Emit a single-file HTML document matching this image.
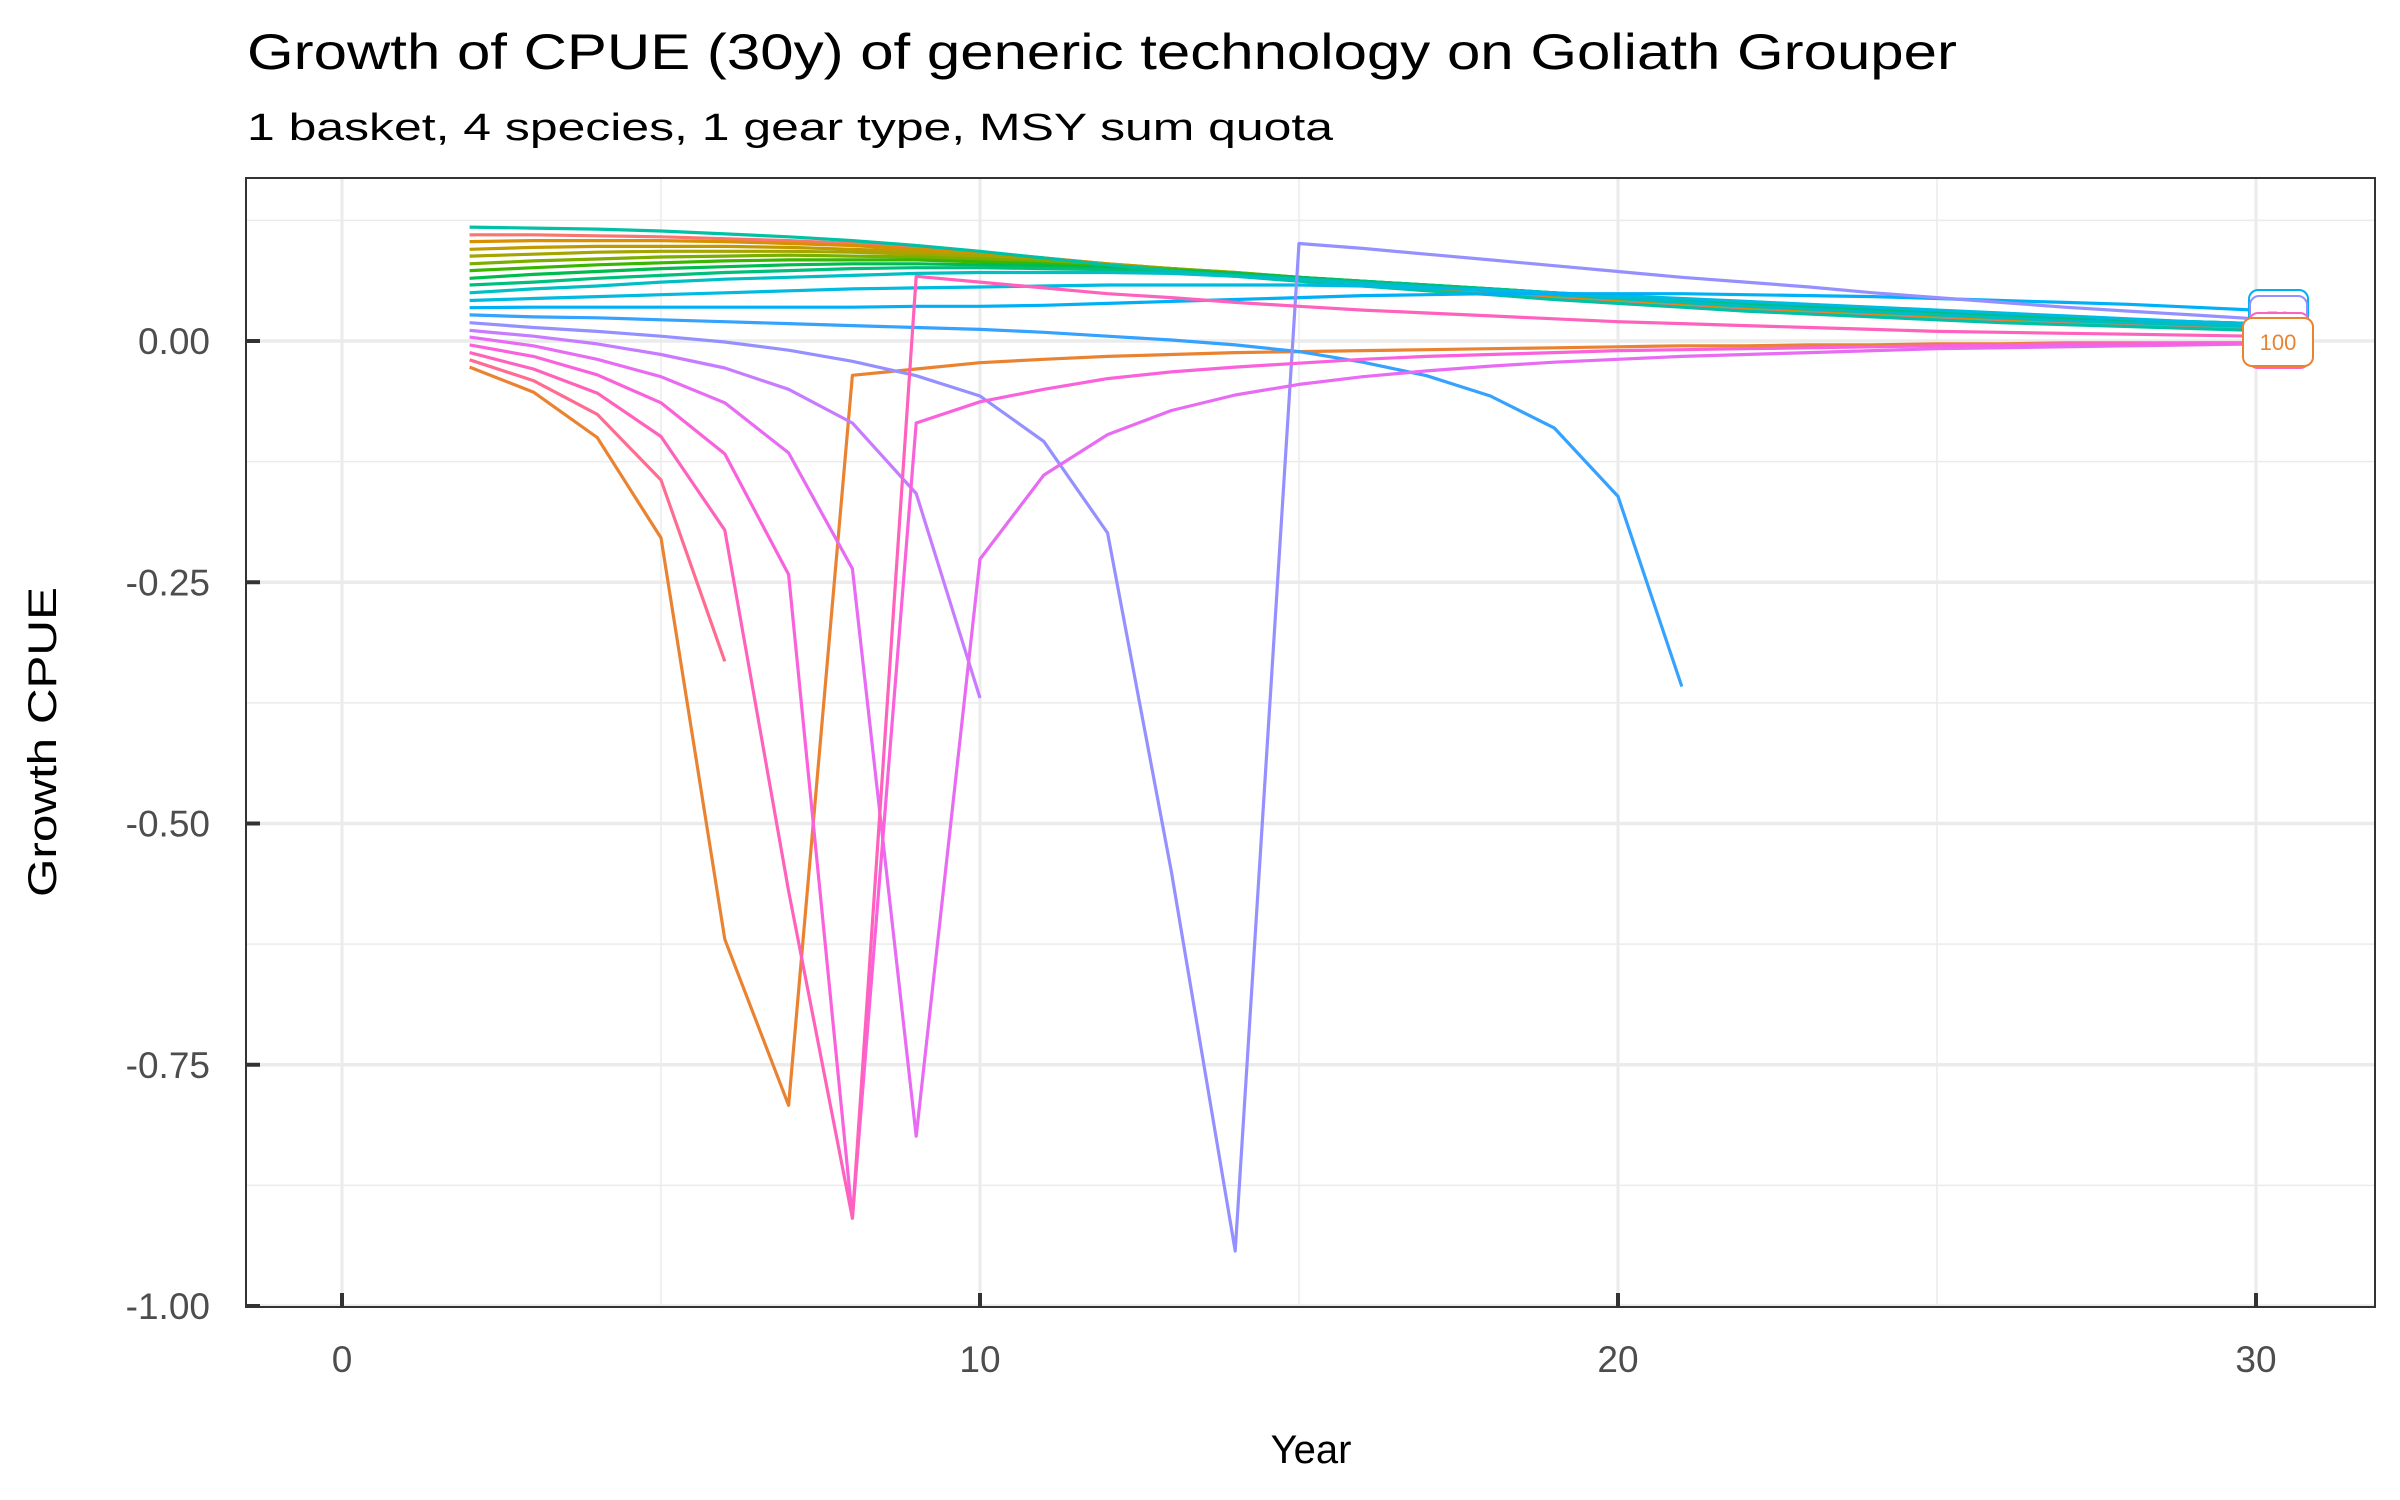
<!DOCTYPE html>
<html><head><meta charset="utf-8"><style>
html,body{margin:0;padding:0;background:#fff;}
svg{display:block;font-family:"Liberation Sans",Arial,sans-serif;}
</style></head><body>
<svg id="chart" width="2400" height="1500" viewBox="0 0 2400 1500" xmlns="http://www.w3.org/2000/svg">
<rect x="0" y="0" width="2400" height="1500" fill="#fff"/>
<text x="247" y="69" font-size="50" fill="#000" textLength="1710" lengthAdjust="spacingAndGlyphs">Growth of CPUE (30y) of generic technology on Goliath Grouper</text>
<text x="247" y="140" font-size="38" fill="#000" textLength="1086" lengthAdjust="spacingAndGlyphs">1 basket, 4 species, 1 gear type, MSY sum quota</text>
<g id="grid"></g>
<g id="series"></g>
<g id="labels"></g>
<rect x="246" y="178" width="2129" height="1129" fill="none" stroke="#333" stroke-width="2"/>
<g id="axes"></g>
<text x="1311" y="1463" font-size="40" text-anchor="middle" fill="#000">Year</text>
<text x="0" y="0" font-size="40" text-anchor="middle" fill="#000" transform="translate(56,742) rotate(-90)" textLength="310" lengthAdjust="spacingAndGlyphs">Growth CPUE</text>
</svg>
<script>
const years = [2,3,4,5,6,7,8,9,10,11,12,13,14,15,16,17,18,19,20,21,22,23,24,25,26,27,28,29,30];
const levels = ["10","100","15","20","25","30","35","40","45","5","50","55","60","65","70","75","80","85","90","95"];
const colors = ["#F8766D","#EA8331","#D89000","#C09B00","#A3A500","#7CAE00","#39B600","#00BB4E","#00BF7D","#00C1A3","#00BFC4","#00BAE0","#00B0F6","#35A2FF","#9590FF","#C77CFF","#E76BF3","#FA62DB","#FF62BC","#FF6C91"];
const xTicks = [0,10,20,30];
const yTicks = [0,-0.25,-0.5,-0.75,-1];
const yTickLabels = ["0.00","-0.25","-0.50","-0.75","-1.00"];
const s5   = [.118,.117,.116,.114,.111,.108,.104,.099,.093,.086,.079,.073,.067,.062,.057,.052,.048,.043,.039,.035,.031,.028,.025,.022,.019,.017,.015,.013,.011];
const s10  = [.110,.110,.109,.108,.106,.104,.101,.097,.092,.086,.080,.074,.069,.064,.059,.054,.050,.046,.042,.038,.034,.031,.028,.025,.022,.020,.018,.016,.014];
const s15  = [.103,.104,.104,.104,.103,.101,.099,.095,.091,.086,.080,.075,.070,.065,.060,.055,.051,.047,.043,.039,.035,.032,.029,.026,.023,.021,.019,.017,.015];
const s20  = [.095,.097,.098,.098,.098,.097,.095,.093,.089,.085,.080,.075,.070,.065,.060,.056,.052,.048,.044,.040,.036,.033,.030,.027,.024,.022,.020,.018,.016];
const s25  = [.088,.090,.092,.093,.093,.093,.092,.090,.088,.084,.079,.075,.071,.066,.061,.057,.053,.049,.045,.041,.037,.034,.031,.028,.025,.022,.020,.018,.016];
const s30  = [.080,.083,.085,.087,.088,.089,.088,.087,.085,.082,.078,.075,.071,.066,.062,.057,.053,.049,.045,.041,.038,.034,.031,.028,.025,.023,.021,.019,.017];
const s35  = [.073,.076,.079,.081,.083,.084,.084,.084,.082,.080,.077,.074,.070,.066,.062,.058,.054,.050,.046,.042,.038,.035,.032,.029,.026,.023,.021,.019,.017];
const s40  = [.065,.069,.072,.075,.077,.079,.080,.080,.079,.078,.076,.073,.070,.066,.062,.058,.054,.050,.046,.042,.039,.035,.032,.029,.026,.024,.022,.020,.018];
const s45  = [.058,.061,.065,.068,.071,.073,.075,.076,.076,.075,.074,.072,.069,.065,.062,.058,.054,.050,.046,.043,.039,.036,.032,.029,.027,.024,.022,.020,.018];
const s50  = [.050,.054,.057,.061,.064,.066,.068,.070,.071,.071,.071,.070,.067,.064,.060,.056,.052,.048,.044,.040,.036,.033,.030,.027,.024,.021,.019,.017,.015];
const s55  = [.042,.044,.046,.048,.050,.052,.054,.055,.056,.057,.058,.058,.058,.058,.057,.055,.053,.050,.047,.044,.041,.038,.035,.032,.029,.026,.023,.020,.018];
const s60  = [.0345,.035,.035,.035,.035,.035,.035,.036,.036,.037,.039,.041,.043,.045,.047,.048,.049,.049,.049,.049,.048,.047,.046,.044,.042,.040,.038,.035,.032];
const s65  = [.027,.025,.024,.022,.020,.018,.016,.014,.012,.009,.005,.001,-.004,-.011,-.022,-.036,-.057,-.090,-.161,-.358,null,null,null,null,null,null,null,null,null];
const s70  = [.019,.014,.010,.005,-.001,-.0095,-.021,-.036,-.057,-.104,-.199,-.55,-.943,.101,.096,.090,.084,.078,.072,.066,.061,.056,.050,.045,.040,.035,.031,.027,.023];
const s75  = [.011,.005,-.003,-.014,-.028,-.050,-.085,-.158,-.370,null,null,null,null,null,null,null,null,null,null,null,null,null,null,null,null,null,null,null,null];
const s80  = [.004,-.005,-.019,-.037,-.064,-.116,-.236,-.824,-.226,-.139,-.097,-.072,-.056,-.045,-.037,-.031,-.026,-.022,-.019,-.016,-.014,-.012,-.010,-.008,-.007,-.006,-.005,-.004,-.003];
const s85  = [-.004,-.016,-.035,-.064,-.117,-.242,-.909,-.085,-.063,-.050,-.039,-.032,-.027,-.023,-.019,-.016,-.014,-.012,-.010,-.009,-.008,-.007,-.006,-.005,-.004,-.003,-.003,-.002,-.002];
const s90  = [-.012,-.029,-.054,-.099,-.196,-.57,-.909,.067,.061,.055,.049,.045,.040,.036,.032,.029,.026,.023,.020,.018,.016,.014,.012,.010,.009,.008,.007,.006,.005];
const s95  = [-.0195,-.041,-.076,-.144,-.332,null,null,null,null,null,null,null,null,null,null,null,null,null,null,null,null,null,null,null,null,null,null,null,null];
const s100 = [-.027,-.053,-.100,-.204,-.62,-.792,-.0355,-.029,-.0225,-.019,-.016,-.014,-.012,-.011,-.010,-.009,-.008,-.007,-.006,-.005,-.005,-.004,-.004,-.003,-.003,-.002,-.002,-.002,-.002];
const seriesByLevel = {"5":s5,"10":s10,"15":s15,"20":s20,"25":s25,"30":s30,"35":s35,"40":s40,"45":s45,"50":s50,"55":s55,"60":s60,"65":s65,"70":s70,"75":s75,"80":s80,"85":s85,"90":s90,"95":s95,"100":s100};

const NS = "http://www.w3.org/2000/svg";
const PL = 246, PR = 2375, PT = 178, PB = 1307;
function xs(v){ return 342 + (v - 0) * (2256 - 342) / 30; }
function ys(v){ return 341 + (0 - v) * (1306 - 341) / 1; }
function mk(tag, attrs, parent){ const e = document.createElementNS(NS, tag); for (const k in attrs) e.setAttribute(k, attrs[k]); parent.appendChild(e); return e; }

const grid = document.getElementById("grid");
const minorY = [0.125,-0.125,-0.375,-0.625,-0.875];
minorY.forEach(v => {
  const l = mk("line", {x1:PL, x2:PR, y1:ys(v), y2:ys(v), stroke:"#EBEBEB", "stroke-width":1.5}, grid);
  
  
});
[5,15,25].forEach(v => {
  const l = mk("line", {x1:xs(v), x2:xs(v), y1:PT, y2:PB, stroke:"#EBEBEB", "stroke-width":1.5}, grid);
  
  
});
yTicks.forEach(v => {
  const l = mk("line", {x1:PL, x2:PR, y1:ys(v), y2:ys(v), stroke:"#EBEBEB", "stroke-width":3.5}, grid);
  
  
});
xTicks.forEach(v => {
  const l = mk("line", {x1:xs(v), x2:xs(v), y1:PT, y2:PB, stroke:"#EBEBEB", "stroke-width":3}, grid);
  
  
});

const sg = document.getElementById("series");
levels.forEach((lv, i) => {
  const vals = seriesByLevel[lv];
  let d = "", pen = false;
  vals.forEach((v, j) => {
    if (v === null) { pen = false; return; }
    d += (pen ? "L" : "M") + xs(years[j]).toFixed(1) + "," + ys(v).toFixed(1);
    pen = true;
  });
  const p = mk("path", {d:d, fill:"none", stroke:colors[i], "stroke-width":3.2, "stroke-linejoin":"round"}, sg);
  
  
});

const lg = document.getElementById("labels");
const boxes = [
  {lv:"60", y:290, h:46, x:2249, w:59},
  {lv:"70", y:296, h:46, x:2250, w:57},
  {lv:"90", y:313, h:55, x:2249, w:60},
  {lv:"100", y:318, h:48, x:2243, w:70}
];
boxes.forEach(b => {
  const c = colors[levels.indexOf(b.lv)];
  const r = mk("rect", {x:b.x, y:b.y, width:b.w, height:b.h, rx:9, fill:"#fff", stroke:c, "stroke-width":2}, lg);
  
  
  const t = mk("text", {x:b.x + b.w/2, y:b.y + b.h/2 + 8, "font-size":22, "text-anchor":"middle", fill:c}, lg);
  t.textContent = b.lv;
  
  
});

const ax = document.getElementById("axes");
yTicks.forEach((v, i) => {
  const t = mk("line", {x1:PL, x2:PL + 14, y1:ys(v), y2:ys(v), stroke:"#333", "stroke-width":4}, ax);
  
  
  const tx = mk("text", {x:210, y:ys(v) + 13, "font-size":37, "text-anchor":"end", fill:"#4D4D4D"}, ax);
  tx.textContent = yTickLabels[i];
  
  
});
xTicks.forEach(v => {
  const t = mk("line", {x1:xs(v), x2:xs(v), y1:PB, y2:PB - 14, stroke:"#333", "stroke-width":4}, ax);
  
  
  const tx = mk("text", {x:xs(v), y:1372, "font-size":37, "text-anchor":"middle", fill:"#4D4D4D"}, ax);
  tx.textContent = String(v);
  
  
});
</script>
</body></html>
